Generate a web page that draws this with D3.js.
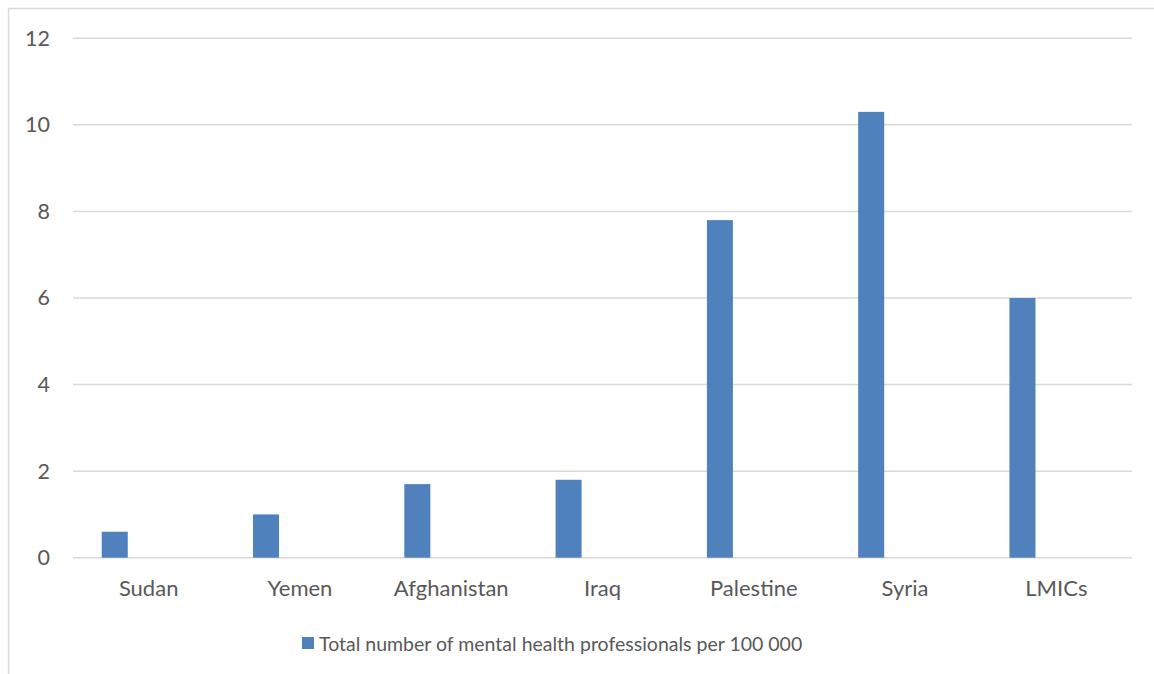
<!DOCTYPE html>
<html>
<head>
<meta charset="utf-8">
<script src="https://cdn.jsdelivr.net/npm/d3@7"></script>
<style>
  html, body { margin: 0; padding: 0; background: #fff; }
  svg { display: block; }
  text { font-family: Lato, "Open Sans", sans-serif; fill: #595959; }
</style>
</head>
<body>
<div id="chart"></div>
<script>
// Mental health workforce per 100 000 population
const categories = ["Sudan", "Yemen", "Afghanistan", "Iraq", "Palestine", "Syria", "LMICs"];
const values = [0.6, 1.0, 1.7, 1.8, 7.8, 10.3, 6.0];
const yTicks = [0, 2, 4, 6, 8, 10, 12];
const seriesName = "Total number of mental health professionals per 100 000";

const W = 1154, H = 674;
const plot = { left: 73, right: 1132, top: 38.3, bottom: 557.7 };
const barColor = "#4f81bd";
const gridColor = "#d9d9d9";

const svg = d3.select("#chart").append("svg")
  .attr("width", W).attr("height", H);

// chart area frame (left and top edges visible)
svg.append("rect")
  .attr("x", 8.5).attr("y", 8.5)
  .attr("width", W + 20).attr("height", H + 20)
  .attr("fill", "#fff")
  .attr("stroke", "#d9d9d9").attr("stroke-width", 1.5);

const x = d3.scaleBand().domain(categories).range([plot.left, plot.right]);
const y = d3.scaleLinear().domain([0, 12]).range([plot.bottom, plot.top]);

// horizontal gridlines
svg.append("g")
  .selectAll("line").data(yTicks).join("line")
  .attr("x1", plot.left).attr("x2", plot.right)
  .attr("y1", d => y(d)).attr("y2", d => y(d))
  .attr("stroke", gridColor).attr("stroke-width", 1.5);

// y axis labels
const yAxis = d3.axisLeft(y).tickValues(yTicks).tickSize(0).tickPadding(0);
const gy = svg.append("g").attr("transform", `translate(50,0)`).call(yAxis);
gy.select(".domain").remove();
gy.selectAll("text")
  .style("font-size", "21.5px").attr("fill", "#595959")
  .attr("font-family", "Lato, 'Open Sans', sans-serif");

// bars sit in the left part of each category slot
const bw = x.bandwidth();
const barOffset = bw * 0.19;
const barWidth = bw * 0.172;
svg.append("g")
  .selectAll("rect").data(categories).join("rect")
  .attr("x", (c) => x(c) + barOffset)
  .attr("width", barWidth)
  .attr("y", (c, i) => y(values[i]))
  .attr("height", (c, i) => y(0) - y(values[i]))
  .attr("fill", barColor);

// category labels
const xAxis = d3.axisBottom(x).tickSize(0).tickPadding(0);
const gx = svg.append("g").attr("transform", `translate(0,${plot.bottom + 38.5})`).call(xAxis);
gx.select(".domain").remove();
gx.selectAll("text")
  .attr("dy", 0)
  .style("font-size", "22px").attr("fill", "#595959")
  .attr("font-family", "Lato, 'Open Sans', sans-serif");

// legend
const legend = svg.append("g").attr("transform", "translate(302,643)");
legend.append("rect")
  .attr("x", 0).attr("y", -6).attr("width", 12).attr("height", 12)
  .attr("fill", barColor);
legend.append("text")
  .attr("x", 17).attr("y", 7.5)
  .style("font-size", "19.5px")
  .text(seriesName);
</script>
</body>
</html>
